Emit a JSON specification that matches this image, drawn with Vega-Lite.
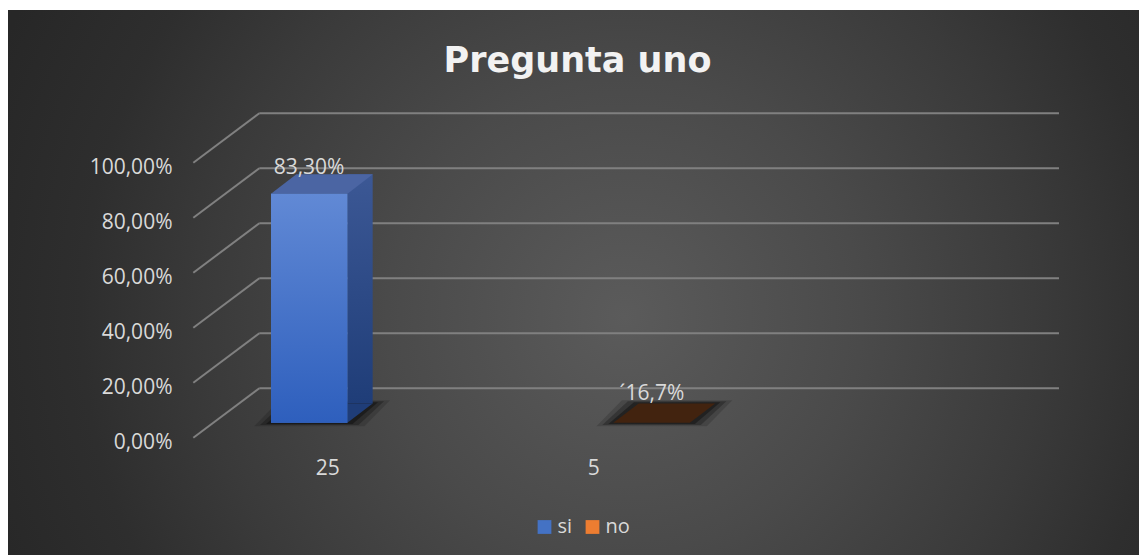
{
  "$schema": "https://vega.github.io/schema/vega-lite/v6.json",
  "width": 1131,
  "height": 545,
  "autosize": {"type": "none"},
  "padding": {"left": 8, "top": 10, "right": 0, "bottom": 0},
  "background": "#ffffff",
  "view": {
    "stroke": null,
    "fill": {
      "gradient": "radial",
      "x1": 0.545, "y1": 0.53, "r1": 0,
      "x2": 0.545, "y2": 0.53, "r2": 0.6,
      "stops": [
        {"offset": 0, "color": "#5b5b5b"},
        {"offset": 0.35, "color": "#4a4a4a"},
        {"offset": 0.62, "color": "#3a3a3a"},
        {"offset": 0.8, "color": "#2e2e2e"},
        {"offset": 1, "color": "#272727"}
      ]
    }
  },
  "title": {
    "text": "Pregunta uno",
    "anchor": "middle",
    "frame": "group",
    "orient": "top",
    "offset": -97,
    "dx": 4,
    "baseline": "alphabetic",
    "font": "DejaVu Sans",
    "fontSize": 35,
    "fontWeight": "bold",
    "color": "#f2f2f2"
  },
  "config": {
    "axis": {
      "domain": false, "ticks": false, "tickSize": 0, "grid": false,
      "labelPadding": 0, "labelFont": "Open Sans", "labelFontSize": 21, "labelColor": "#d9d9d9"
    }
  },
  "datasets": {
    "respuestas": [
      {"categoria": "25", "serie": "si", "valor": 0.833, "etiqueta": "83,30%"},
      {"categoria": "5", "serie": "no", "valor": 0, "etiqueta": "´16,7%"}
    ],
    "rejilla": [
      {"v": 0}, {"v": 0.2}, {"v": 0.4}, {"v": 0.6}, {"v": 0.8}, {"v": 1}
    ]
  },
  "layer": [
    {
      "data": {"name": "respuestas"},
      "transform": [{"filter": "datum.serie === 'si'"}],
      "mark": {"type": "bar", "opacity": 0},
      "encoding": {
        "x": {
          "field": "categoria", "type": "nominal", "bandPosition": 0.217,
          "scale": {"domain": ["25", "5", ""], "paddingInner": 0, "paddingOuter": 0.626, "align": 0.6165},
          "axis": {
            "title": null, "offset": -86.3, "labelBaseline": "middle", "labelAngle": 0, "labelOffset": -18.5
          }
        },
        "x2": {"field": "categoria", "bandPosition": 0.504},
        "y": {
          "field": "valor", "type": "quantitative",
          "scale": {"domain": [-0.481, 1.5007], "nice": false, "zero": false},
          "axis": {
            "title": null, "offset": -164, "values": [0, 0.2, 0.4, 0.6, 0.8, 1],
            "labelExpr": "replace(format(datum.value, '.2%'), '.', ',')",
            "labelBaseline": "middle", "labelOffset": 19.5
          }
        },
        "y2": {"datum": 0}
      }
    },
    {
      "data": {"name": "rejilla"},
      "mark": {"type": "rule", "stroke": "#808080", "strokeWidth": 2, "xOffset": 46, "x2Offset": 47.7, "yOffset": -34.4},
      "encoding": {
        "x": {"datum": "25", "type": "nominal", "bandPosition": 0},
        "x2": {"datum": "5", "bandPosition": 2},
        "y": {"field": "v", "type": "quantitative"}
      }
    },
    {
      "data": {"name": "rejilla"},
      "mark": {"type": "rule", "stroke": "#808080", "strokeWidth": 2, "xOffset": -20, "yOffset": 15, "x2Offset": 46, "y2Offset": -34.4},
      "encoding": {
        "x": {"datum": "25", "type": "nominal", "bandPosition": 0},
        "x2": {"datum": "25", "bandPosition": 0},
        "y": {"field": "v", "type": "quantitative"},
        "y2": {"field": "v"}
      }
    },
    {
      "data": {"name": "respuestas"},
      "transform": [{"filter": "datum.serie === 'si'"}],
      "mark": {"type": "point", "shape": "M-0.17,0.035L0.935,0.035L1.19,-0.225L0.085,-0.225Z", "size": 40000, "filled": true, "fill": "#000000", "opacity": 0.15, "strokeWidth": 0},
      "encoding": {
        "x": {"field": "categoria", "type": "nominal", "bandPosition": 0.217},
        "y": {"datum": 0, "type": "quantitative"}
      }
    },
    {
      "data": {"name": "respuestas"},
      "transform": [{"filter": "datum.serie === 'si'"}],
      "mark": {"type": "point", "shape": "M-0.11,0.024L0.875,0.024L1.13,-0.215L0.145,-0.215Z", "size": 40000, "filled": true, "fill": "#000000", "opacity": 0.25, "strokeWidth": 0},
      "encoding": {
        "x": {"field": "categoria", "type": "nominal", "bandPosition": 0.217},
        "y": {"datum": 0, "type": "quantitative"}
      }
    },
    {
      "data": {"name": "respuestas"},
      "transform": [{"filter": "datum.serie === 'si'"}],
      "mark": {"type": "point", "shape": "M-0.05,0.012L0.815,0.012L1.07,-0.204L0.205,-0.204Z", "size": 40000, "filled": true, "fill": "#000000", "opacity": 0.35, "strokeWidth": 0},
      "encoding": {
        "x": {"field": "categoria", "type": "nominal", "bandPosition": 0.217},
        "y": {"datum": 0, "type": "quantitative"}
      }
    },
    {
      "data": {"name": "respuestas"},
      "transform": [{"filter": "datum.serie === 'no'"}],
      "mark": {"type": "point", "shape": "M-0.17,0.035L0.935,0.035L1.19,-0.225L0.085,-0.225Z", "size": 40000, "filled": true, "fill": "#000000", "opacity": 0.15, "strokeWidth": 0},
      "encoding": {
        "x": {"field": "categoria", "type": "nominal", "bandPosition": 0.504},
        "y": {"datum": 0, "type": "quantitative"}
      }
    },
    {
      "data": {"name": "respuestas"},
      "transform": [{"filter": "datum.serie === 'no'"}],
      "mark": {"type": "point", "shape": "M-0.11,0.024L0.875,0.024L1.13,-0.215L0.145,-0.215Z", "size": 40000, "filled": true, "fill": "#000000", "opacity": 0.25, "strokeWidth": 0},
      "encoding": {
        "x": {"field": "categoria", "type": "nominal", "bandPosition": 0.504},
        "y": {"datum": 0, "type": "quantitative"}
      }
    },
    {
      "data": {"name": "respuestas"},
      "transform": [{"filter": "datum.serie === 'no'"}],
      "mark": {"type": "point", "shape": "M-0.05,0.012L0.815,0.012L1.07,-0.204L0.205,-0.204Z", "size": 40000, "filled": true, "fill": "#000000", "opacity": 0.35, "strokeWidth": 0},
      "encoding": {
        "x": {"field": "categoria", "type": "nominal", "bandPosition": 0.504},
        "y": {"datum": 0, "type": "quantitative"}
      }
    },
    {
      "data": {"name": "respuestas"},
      "transform": [{"filter": "datum.serie === 'si'"}],
      "mark": {
        "type": "bar", "x2Offset": 25.3, "yOffset": -19.3, "y2Offset": -19.3,
        "fill": {"gradient": "linear", "x1": 0, "y1": 0, "x2": 0, "y2": 1,
          "stops": [{"offset": 0, "color": "#3c5895"}, {"offset": 1, "color": "#1f3d78"}]}
      },
      "encoding": {
        "x": {"field": "categoria", "type": "nominal", "bandPosition": 0.504},
        "x2": {"field": "categoria", "bandPosition": 0.504},
        "y": {"field": "valor", "type": "quantitative"},
        "y2": {"datum": 0}
      }
    },
    {
      "data": {"name": "respuestas"},
      "transform": [{"filter": "datum.serie === 'si'"}],
      "mark": {"type": "point", "shape": "M0,0L0.253,-0.193L0,-0.193Z", "size": 40000, "filled": true, "fill": "#1f3d78", "opacity": 1, "strokeWidth": 0},
      "encoding": {
        "x": {"field": "categoria", "type": "nominal", "bandPosition": 0.504},
        "y": {"datum": 0, "type": "quantitative"}
      }
    },
    {
      "data": {"name": "respuestas"},
      "transform": [{"filter": "datum.serie === 'si'"}],
      "mark": {"type": "point", "shape": "M0,0L0.765,0L1.018,-0.193L0.253,-0.193Z", "size": 40000, "filled": true, "fill": "#4b65a3", "opacity": 1, "strokeWidth": 0},
      "encoding": {
        "x": {"field": "categoria", "type": "nominal", "bandPosition": 0.217},
        "y": {"field": "valor", "type": "quantitative"}
      }
    },
    {
      "data": {"name": "respuestas"},
      "transform": [{"filter": "datum.serie === 'no'"}],
      "mark": {"type": "point", "shape": "M0,0L0.765,0L1.018,-0.193L0.253,-0.193Z", "size": 40000, "filled": true, "fill": "#42230f", "opacity": 1, "strokeWidth": 0},
      "encoding": {
        "x": {"field": "categoria", "type": "nominal", "bandPosition": 0.504},
        "y": {"field": "valor", "type": "quantitative"}
      }
    },
    {
      "data": {"name": "respuestas"},
      "transform": [{"filter": "datum.serie === 'si'"}],
      "mark": {"type": "bar"},
      "encoding": {
        "x": {"field": "categoria", "type": "nominal", "bandPosition": 0.217},
        "x2": {"field": "categoria", "bandPosition": 0.504},
        "y": {"field": "valor", "type": "quantitative"},
        "y2": {"datum": 0},
        "color": {
          "field": "serie", "type": "nominal",
          "scale": {"domain": ["si", "no"], "range": ["#4472C4", "#ED7D31"]},
          "legend": {
            "orient": "none", "legendX": 526.5, "legendY": 507, "direction": "horizontal",
            "title": null, "symbolType": "square", "symbolSize": 190, "symbolStrokeWidth": 0,
            "symbolOpacity": 1, "labelFont": "Open Sans", "labelFontSize": 20, "labelColor": "#d9d9d9",
            "labelOffset": 3, "columnPadding": 10, "padding": 0
          }
        }
      }
    },
    {
      "data": {"name": "respuestas"},
      "transform": [{"filter": "datum.serie === 'si'"}],
      "mark": {
        "type": "bar",
        "fill": {"gradient": "linear", "x1": 0, "y1": 0, "x2": 0, "y2": 1,
          "stops": [{"offset": 0, "color": "#6189d5"}, {"offset": 1, "color": "#2e5fbd"}]}
      },
      "encoding": {
        "x": {"field": "categoria", "type": "nominal", "bandPosition": 0.217},
        "x2": {"field": "categoria", "bandPosition": 0.504},
        "y": {"field": "valor", "type": "quantitative"},
        "y2": {"datum": 0}
      }
    },
    {
      "data": {"name": "respuestas"},
      "transform": [{"filter": "datum.serie === 'si'"}],
      "mark": {"type": "text", "font": "Open Sans", "fontSize": 21, "fill": "#d9d9d9", "baseline": "middle", "dy": -26},
      "encoding": {
        "x": {"field": "categoria", "type": "nominal", "bandPosition": 0.36},
        "y": {"field": "valor", "type": "quantitative"},
        "text": {"field": "etiqueta"}
      }
    },
    {
      "data": {"name": "respuestas"},
      "transform": [{"filter": "datum.serie === 'no'"}],
      "mark": {"type": "text", "font": "Open Sans", "fontSize": 21, "fill": "#d9d9d9", "baseline": "middle", "dy": -28.6},
      "encoding": {
        "x": {"field": "categoria", "type": "nominal", "bandPosition": 0.649},
        "y": {"field": "valor", "type": "quantitative"},
        "text": {"field": "etiqueta"}
      }
    }
  ]
}
